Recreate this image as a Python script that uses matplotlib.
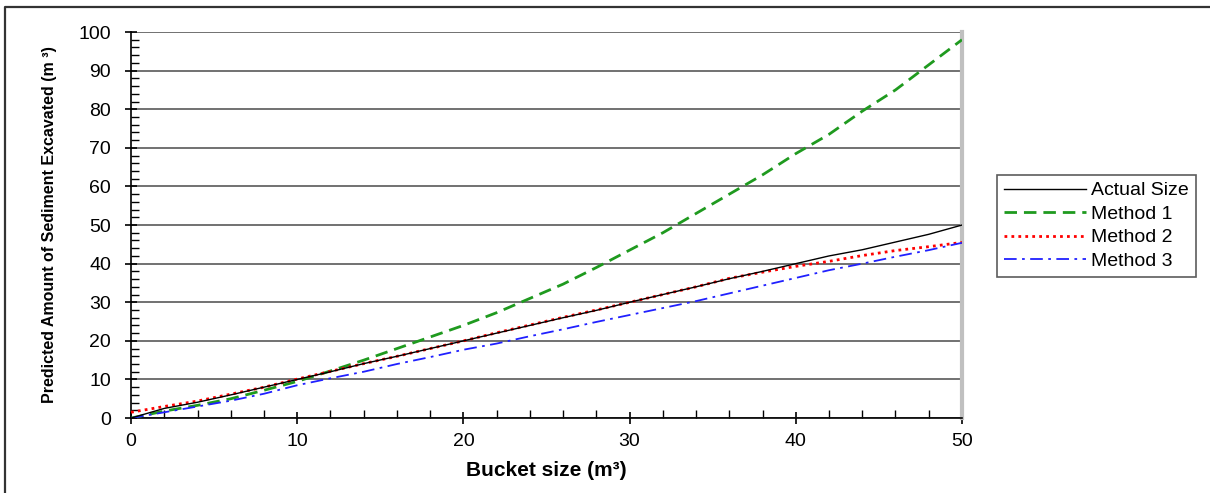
import matplotlib

matplotlib.use("Agg")
import matplotlib.pyplot as plt
from matplotlib.lines import Line2D
from matplotlib.ticker import MultipleLocator

plt.rcParams["font.family"] = ["Liberation Sans", "DejaVu Sans"]

# bucket size (m3)
bucket = [0, 2, 4, 6, 8, 10, 12, 14, 16, 18, 20, 22, 24, 26, 28, 30,
          32, 34, 36, 38, 40, 42, 44, 46, 48, 50]
actual = [0, 2.5, 4.1, 6.0, 8.0, 10.0, 12.0, 14.1, 16.0, 18.0, 20.0, 22.0,
          24.0, 26.0, 27.9, 30.0, 32.0, 34.0, 36.1, 38.0, 40.0, 42.0, 43.6,
          45.6, 47.6, 50.0]
method1 = [0, 1.8, 3.3, 5.0, 7.2, 9.5, 12.2, 15.0, 18.0, 21.0, 24.0, 27.3,
           31.0, 34.7, 39.0, 43.5, 48.0, 53.0, 58.0, 63.0, 68.5, 73.5, 79.5,
           85.0, 91.5, 98.0]
method2 = [1.5, 3.0, 4.4, 6.2, 8.0, 10.1, 12.1, 14.1, 16.0, 18.0, 20.0, 22.1,
           24.1, 26.1, 28.0, 30.0, 32.0, 34.0, 36.2, 37.8, 39.3, 40.6, 42.1,
           43.4, 44.4, 45.5]
method3 = [0, 1.5, 3.0, 4.5, 6.3, 8.5, 10.3, 12.0, 14.0, 15.8, 17.7, 19.3,
           21.2, 23.0, 24.9, 26.7, 28.5, 30.3, 32.3, 34.3, 36.3, 38.3, 40.0,
           41.8, 43.5, 45.4]

fig = plt.figure(figsize=(12.1, 4.93), dpi=100)
ax = fig.add_axes([0.1083, 0.152, 0.6867, 0.783])

ax.plot(bucket, actual, color="black", lw=1.0, label="Actual Size", zorder=5)
ax.plot(bucket, method1, color="#1f9a1f", lw=2.0, ls=(0, (4.5, 2.5)),
        label="Method 1", zorder=4)
ax.plot(bucket, method2, color="#ff0000", lw=2.0, ls=(0, (1, 1.5)),
        label="Method 2", zorder=4)
ax.plot(bucket, method3, color="#2020ff", lw=1.3, ls=(0, (7, 3, 1.5, 3)),
        label="Method 3", zorder=4)

ax.set_xlim(0, 50)
ax.set_ylim(0, 100)
ax.xaxis.set_major_locator(MultipleLocator(10))
ax.xaxis.set_minor_locator(MultipleLocator(2))
ax.yaxis.set_major_locator(MultipleLocator(10))
ax.yaxis.set_minor_locator(MultipleLocator(2))
ax.tick_params(which="major", direction="inout", length=9, width=1.2,
               labelsize=14)
ax.tick_params(axis="y", which="major", pad=10)
ax.tick_params(axis="x", which="major", pad=6)
ax.tick_params(which="minor", direction="in", length=6, width=1.0)
ax.grid(True, axis="y", which="major", color="#666666", lw=1.3)
ax.set_axisbelow(True)

ax.spines["top"].set_visible(False)
ax.spines["right"].set_color("#c0c0c0")
ax.spines["right"].set_linewidth(3)
ax.spines["left"].set_linewidth(1.2)
ax.spines["bottom"].set_linewidth(1.2)

ax.set_xlabel("Bucket size (m³)", fontsize=15, fontweight="bold", labelpad=8)
ax.set_ylabel("Predicted Amount of Sediment Excavated (m ³)", fontsize=11.5,
              fontweight="bold", labelpad=15)

leg = ax.legend(loc="upper left", bbox_to_anchor=(0.824, 0.645),
                bbox_transform=fig.transFigure, fontsize=14, frameon=True,
                fancybox=False, edgecolor="#333333", handlelength=4.2,
                handletextpad=0.3, labelspacing=0.3, borderpad=0.35,
                borderaxespad=0)
leg.get_frame().set_linewidth(1.2)

# outer frame, only the left and top edges are inside the crop
fig.add_artist(Line2D([5 / 1210, 5 / 1210, 1.0], [0.0, 1 - 7 / 493, 1 - 7 / 493],
                      transform=fig.transFigure, color="#333333", lw=1.6))

fig.savefig("out.png", dpi=100)
